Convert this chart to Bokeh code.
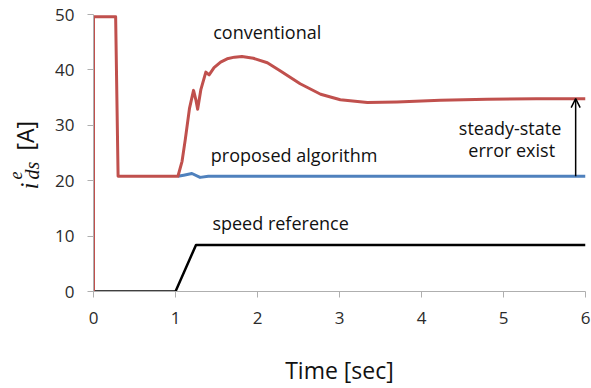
import numpy as np
from bokeh.plotting import figure
from bokeh.layouts import row
from bokeh.models import Range1d, FixedTicker, Arrow, OpenHead
from bokeh.core.properties import value
from bokeh.embed import file_html
from bokeh.resources import INLINE

# ---- data ----
conv_t = [0.0, 0.0, 0.27, 0.30, 1.03, 1.08, 1.12, 1.17, 1.22, 1.25, 1.27, 1.31, 1.37, 1.41,
          1.47, 1.55, 1.63, 1.72, 1.81, 1.95, 2.12, 2.28, 2.52, 2.77, 3.01, 3.34, 3.70,
          4.23, 4.80, 5.40, 6.00]
conv_i = [0.0, 49.6, 49.6, 20.8, 20.8, 23.5, 27.5, 33.0, 36.3, 34.5, 32.9, 36.5, 39.6, 39.1,
          40.4, 41.4, 42.0, 42.3, 42.4, 42.1, 41.3, 39.8, 37.5, 35.6, 34.6, 34.1, 34.2,
          34.5, 34.7, 34.8, 34.8]
prop_t = [1.03, 1.10, 1.20, 1.30, 1.40, 2.0, 3.0, 4.0, 5.0, 6.0]
prop_i = [20.8, 21.0, 21.3, 20.6, 20.8, 20.8, 20.8, 20.8, 20.8, 20.8]
speed_t = [0.0, 1.0, 1.25, 6.0]
speed_v = [0.0, 0.0, 8.4, 8.4]
x_ticks = [0, 1, 2, 3, 4, 5, 6]
y_ticks = [0, 10, 20, 30, 40, 50]
err_t = 5.88
err_low = 20.8
err_high = 34.8

SANS = "Open Sans"
SERIF = "Liberation Serif"
H = 388
LW = 42           # width of the strip that holds the y-axis title
TOP, BOTTOM = 14, 97

p = figure(width=591 - LW, height=H, x_range=Range1d(0, 6), y_range=Range1d(0, 50),
           output_backend="svg", toolbar_location=None,
           min_border_left=93 - LW, min_border_right=6, min_border_top=TOP,
           min_border_bottom=BOTTOM)
p.grid.visible = False
p.outline_line_color = None

for ax in (p.xaxis[0], p.yaxis[0]):
    ax.axis_line_color = "#AFAFAF"
    ax.major_tick_line_color = "#AFAFAF"
    ax.major_tick_out = 6
    ax.major_tick_in = 0
    ax.minor_tick_line_color = None
    ax.major_label_text_font = SANS
    ax.major_label_text_font_size = "17px"
    ax.major_label_text_color = "#2b2b2b"

p.xaxis.ticker = FixedTicker(ticks=x_ticks)
p.yaxis.ticker = FixedTicker(ticks=y_ticks)
p.xaxis.major_label_standoff = 14
p.yaxis.major_label_standoff = 13
p.xaxis.axis_label = "Time [sec]"
p.xaxis.axis_label_text_font = SANS
p.xaxis.axis_label_text_font_size = "23px"
p.xaxis.axis_label_text_font_style = "normal"
p.xaxis.axis_label_text_color = "#111111"
p.xaxis.axis_label_standoff = 27

p.line(speed_t, speed_v, line_color="black", line_width=2.5, line_join="round")
p.line(prop_t, prop_i, line_color="#4F81BD", line_width=3, line_join="round")
p.line(conv_t, conv_i, line_color="#C0504D", line_width=3, line_join="round")

p.add_layout(Arrow(end=OpenHead(size=9, line_width=1.5, line_color="black"),
                   x_start=err_t, y_start=err_low, x_end=err_t, y_end=err_high,
                   line_width=1.5, line_color="black"))

txt = dict(text_font=value(SANS), text_font_size="18px", text_color="#111111",
           text_baseline="middle")
p.text(x=[1.46], y=[46.9], text=["conventional"], text_align="left", **txt)
p.text(x=[1.43], y=[24.6], text=["proposed algorithm"], text_align="left", **txt)
p.text(x=[1.45], y=[12.4], text=["speed reference"], text_align="left", **txt)
p.text(x=[5.08, 5.10], y=[29.6, 25.6], text=["steady-state", "error exist"],
       text_align="center", **txt)

# ---- y-axis title  i^e_ds [A]  in a narrow strip; its frame matches the main frame ----
q = figure(width=LW, height=H, x_range=Range1d(0, LW), y_range=Range1d(BOTTOM, H - TOP),
           output_backend="svg", toolbar_location=None,
           min_border_left=0, min_border_right=0, min_border_top=TOP,
           min_border_bottom=BOTTOM, x_axis_location=None, y_axis_location=None)
q.grid.visible = False
q.outline_line_color = None
ang = np.pi / 2
common = dict(angle=ang, text_align="left", text_baseline="alphabetic",
              text_color="#111111")
q.text(x=[29], y=[H - 189], text=["i"], text_font=value(SERIF),
       text_font_style="italic", text_font_size="25px", **common)
q.text(x=[15], y=[H - 179], text=["e"], text_font=value(SERIF),
       text_font_style="italic", text_font_size="18px", **common)
q.text(x=[31], y=[H - 179], text=["ds"], text_font=value(SERIF),
       text_font_style="italic", text_font_size="20px", **common)
q.text(x=[24], y=[H - 150], text=["[A]"], text_font=value(SANS),
       text_font_size="23px", **common)

layout = row(q, p, spacing=0)
open("out.html", "w").write(file_html(layout, INLINE))
